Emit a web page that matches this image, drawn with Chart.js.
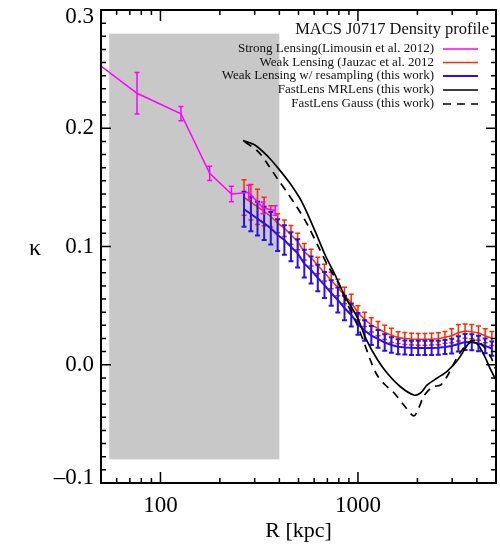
<!DOCTYPE html>
<html>
<head>
<meta charset="utf-8">
<script src="https://cdn.jsdelivr.net/npm/chart.js@4.4.1/dist/chart.umd.min.js"></script>
<style>
body { margin: 0; background: #fff; }
#wrap { width: 500px; height: 545px; }
</style>
</head>
<body>
<div id="wrap"><canvas id="grap"></canvas></div>
<script>
// radii (kpc) and kappa values
var strongR   = [50, 76.1, 127, 177.5, 228.8, 280, 331, 381];
var strongK   = [0.2526, 0.2296, 0.2123, 0.1619, 0.1444, 0.1457, 0.1326, 0.1304];
var strongErr = [0, 0.0175, 0.006, 0.006, 0.0065, 0.006, 0.005, 0.004];

var weakR = [265, 287, 310, 335, 362, 392, 424, 458, 495, 535, 579, 626, 677, 732, 791, 855, 925,
             1000, 1081, 1169, 1264, 1366, 1477, 1597, 1727, 1867, 2019, 2183, 2360, 2552, 2759,
             2983, 3225, 3487, 3770, 4076, 4407, 4765];
var jauzacK = [0.1415, 0.1375, 0.1335, 0.1296, 0.1254, 0.1197, 0.1155, 0.1098, 0.1042, 0.0955,
               0.0906, 0.0839, 0.0779, 0.0712, 0.0653, 0.0585, 0.0526, 0.0440, 0.0383, 0.0337,
               0.0306, 0.0273, 0.0249, 0.0230, 0.0222, 0.0217, 0.0215, 0.0215, 0.0216, 0.0220,
               0.0232, 0.0245, 0.0270, 0.0285, 0.0280, 0.0268, 0.0245, 0.0222];
var jauzacErr = [0.015, 0.015, 0.015, 0.012, 0.009, 0.008, 0.007, 0.008, 0.007, 0.007, 0.007,
                 0.007, 0.007, 0.007, 0.007, 0.007, 0.007, 0.006, 0.006, 0.006, 0.006, 0.006,
                 0.006, 0.005, 0.005, 0.005, 0.005, 0.005, 0.005, 0.005, 0.005, 0.006, 0.007,
                 0.006, 0.006, 0.006, 0.006, 0.006];
var resampK = [0.1315, 0.1275, 0.1235, 0.1196, 0.1154, 0.1097, 0.1055, 0.0998, 0.0942, 0.0855,
               0.0801, 0.0734, 0.0674, 0.0607, 0.0548, 0.0480, 0.0421, 0.0345, 0.0290, 0.0247,
               0.0218, 0.0188, 0.0167, 0.0152, 0.0146, 0.0143, 0.0142, 0.0142, 0.0142, 0.0144,
               0.0150, 0.0158, 0.0176, 0.0192, 0.0190, 0.0180, 0.0160, 0.0137];
var resampErr = [0.0148, 0.0146, 0.0143, 0.014, 0.0137, 0.0134, 0.0125, 0.0122, 0.012, 0.0117,
                 0.0114, 0.0112, 0.011, 0.0108, 0.0106, 0.0104, 0.0098, 0.0092, 0.0086, 0.008,
                 0.0075, 0.007, 0.0066, 0.0063, 0.006, 0.006, 0.006, 0.006, 0.006, 0.006, 0.006,
                 0.0062, 0.0065, 0.0068, 0.0068, 0.0065, 0.0062, 0.006];

var mrlensR = [262, 300.6, 351, 395, 452.8, 519, 606.6, 682, 766.6, 861.7, 988, 1111, 1249, 1404,
               1641, 1917, 2074, 2243, 2521, 2835, 3187, 3583, 3722, 4027, 4351, 4706, 5000];
var mrlensK = [0.1895, 0.1858, 0.1759, 0.1661, 0.1534, 0.1379, 0.1130, 0.0928, 0.0759, 0.0575,
               0.0406, 0.0201, 0.0049, -0.0070, -0.0186, -0.0256, -0.0239, -0.0171, -0.0112,
               -0.0053, 0.0036, 0.0167, 0.0192, 0.0175, 0.0082, -0.0044, -0.0129];
var gaussR = [267.3, 312.5, 351.2, 394.8, 435.5, 489.7, 550.6, 630.5, 708.8, 796.9, 879.4, 969,
              1089, 1155, 1249, 1376, 1517, 1706, 1917, 2032, 2156, 2377, 2620, 2835, 3006, 3311,
              3722, 4027, 4351, 4706, 5000];
var gaussK = [0.1886, 0.1802, 0.1690, 0.1563, 0.1463, 0.1337, 0.1196, 0.0998, 0.0829, 0.0689,
              0.0522, 0.0378, 0.0159, 0.0040, -0.0087, -0.0171, -0.0235, -0.0340, -0.0433,
              -0.0366, -0.0264, -0.0188, -0.0171, -0.0095, -0.0011, 0.0108, 0.0201, 0.0201,
              0.0150, 0.0066, -0.0044];

// shaded strong-lensing region
var bandR = [55, 400];
var bandK = [-0.08, 0.28];

// axis ticks
var xMajor = [100, 1000];
var xLabels = ["100", "1000"];
var xMinor = [60, 70, 80, 90, 200, 300, 400, 500, 600, 700, 800, 900, 2000, 3000, 4000];
var yMajor = [-0.1, 0.0, 0.1, 0.2, 0.3];
var yLabels = ["\u20130.1", "0.0", "0.1", "0.2", "0.3"];

var legendNames = ["Strong Lensing(Limousin et al. 2012)", "Weak Lensing (Jauzac et al. 2012",
                   "Weak Lensing w/ resampling (this work)", "FastLens MRLens (this work)",
                   "FastLens Gauss (this work)"];

function pts(xs, ys) {
    return xs.map(function (x, i) { return { x: x, y: ys[i] }; });
}

var SERIF = "'Liberation Serif', 'DejaVu Serif', serif";

var decor = {
    id: "decor",
    beforeDatasetsDraw: function (chart) {
        var c = chart.ctx, xs = chart.scales.x, ys = chart.scales.y;
        var x0 = xs.getPixelForValue(bandR[0]), x1 = xs.getPixelForValue(bandR[1]);
        var y0 = ys.getPixelForValue(bandK[1]), y1 = ys.getPixelForValue(bandK[0]);
        c.save();
        c.fillStyle = "#c8c8c8";
        c.fillRect(x0, y0, x1 - x0, y1 - y0);
        c.restore();
    },
    afterDatasetDraw: function (chart, args) {
        var ds = chart.data.datasets[args.index];
        if (!ds.errors) return;
        var c = chart.ctx, ys = chart.scales.y, a = chart.chartArea;
        c.save();
        c.beginPath();
        c.rect(a.left, a.top, a.right - a.left, a.bottom - a.top);
        c.clip();
        c.strokeStyle = ds.borderColor;
        c.lineWidth = ds.barWidth;
        args.meta.data.forEach(function (p, i) {
            var e = ds.errors[i];
            if (!e) return;
            var v = ds.data[i].y;
            var t = ys.getPixelForValue(v + e), b = ys.getPixelForValue(v - e);
            c.beginPath();
            c.moveTo(p.x, t); c.lineTo(p.x, b);
            c.moveTo(p.x - 2.5, t); c.lineTo(p.x + 2.5, t);
            c.moveTo(p.x - 2.5, b); c.lineTo(p.x + 2.5, b);
            c.stroke();
        });
        c.restore();
    },
    afterDraw: function (chart) {
        var c = chart.ctx, xs = chart.scales.x, ys = chart.scales.y, a = chart.chartArea;
        c.save();
        c.strokeStyle = "#000";
        c.fillStyle = "#000";
        // ticks, inside on all four sides
        c.lineWidth = 1.5;
        c.beginPath();
        xMajor.concat(xMinor).forEach(function (v) {
            var px = xs.getPixelForValue(v), len = xMajor.indexOf(v) >= 0 ? 11 : 5;
            c.moveTo(px, a.bottom); c.lineTo(px, a.bottom - len);
            c.moveTo(px, a.top); c.lineTo(px, a.top + len);
        });
        for (var k = 0; k < yMajor.length; k++) {
            for (var m = 0; m < 9; m++) {
                if (m > 0 && k == yMajor.length - 1) break;
                var v = yMajor[k] + m * 0.1 / 9;
                var py = ys.getPixelForValue(v), len = m == 0 ? 10 : 5;
                c.moveTo(a.left, py); c.lineTo(a.left + len, py);
                c.moveTo(a.right, py); c.lineTo(a.right - len, py);
            }
        }
        c.stroke();
        c.lineWidth = 2;
        c.strokeRect(a.left, a.top, a.right - a.left, a.bottom - a.top);

        // tick labels
        c.font = "23px " + SERIF;
        c.textAlign = "right";
        c.textBaseline = "middle";
        yMajor.forEach(function (v, i) {
            var py = ys.getPixelForValue(v);
            py = Math.min(Math.max(py, a.top + 7), a.bottom - 5);
            c.fillText(yLabels[i], a.left - 7, py);
        });
        c.textAlign = "center";
        xMajor.forEach(function (v, i) {
            c.fillText(xLabels[i], xs.getPixelForValue(v), a.bottom + 23);
        });
        c.font = "22px " + SERIF;
        c.fillText("R [kpc]", (a.left + a.right) / 2, a.bottom + 48);
        c.font = "24px " + SERIF;
        c.fillText("\u03ba", 35, (a.top + a.bottom) / 2 + 2);

        // title and legend
        c.font = "16.5px " + SERIF;
        c.textAlign = "right";
        c.fillStyle = "#111";
        c.fillText("MACS J0717 Density profile", 489, 30);
        c.font = "13px " + SERIF;
        var rowY = [49, 62.5, 76, 90, 104];
        var legendSets = ["strong", "jauzac", "resamp", "mrlens", "gauss"].map(function (key) {
            return chart.data.datasets.filter(function (d) { return d.key == key; })[0];
        });
        legendSets.forEach(function (d, i) {
            c.fillStyle = "#111";
            c.fillText(legendNames[i], 434, rowY[i]);
            c.strokeStyle = d.borderColor;
            c.lineWidth = d.legendWidth;
            c.setLineDash(d.borderDash || []);
            c.beginPath();
            c.moveTo(443, rowY[i]); c.lineTo(478, rowY[i]);
            c.stroke();
        });
        c.setLineDash([]);
        c.restore();
    }
};

var ctx = document.getElementById("grap").getContext("2d");
var kappaChart = new Chart(ctx, {
    type: "line",
    data: {
        datasets: [
            {
                key: "gauss", label: legendNames[4], data: pts(gaussR, gaussK), order: 1,
                borderColor: "#000", borderWidth: 1.7, borderDash: [8, 6], legendWidth: 1.6,
                pointRadius: 0, tension: 0.3, fill: false
            },
            {
                key: "mrlens", label: legendNames[3], data: pts(mrlensR, mrlensK), order: 2,
                borderColor: "#000", borderWidth: 1.7, legendWidth: 1.6,
                pointRadius: 0, tension: 0.3, fill: false
            },
            {
                key: "strong", label: legendNames[0], data: pts(strongR, strongK), order: 3,
                borderColor: "#f0f", borderWidth: 1.5, legendWidth: 1.5,
                errors: strongErr, barWidth: 1.5, pointRadius: 0, tension: 0, fill: false
            },
            {
                key: "resamp", label: legendNames[2], data: pts(weakR, resampK), order: 4,
                borderColor: "#2a10f0", borderWidth: 2, legendWidth: 2,
                errors: resampErr, barWidth: 2, pointRadius: 0, tension: 0, fill: false
            },
            {
                key: "jauzac", label: legendNames[1], data: pts(weakR, jauzacK), order: 5,
                borderColor: "#ff2a00", borderWidth: 1.5, legendWidth: 1.5,
                errors: jauzacErr, barWidth: 1.5, pointRadius: 0, tension: 0, fill: false
            }
        ]
    },
    options: {
        responsive: true,
        maintainAspectRatio: false,
        animation: false,
        devicePixelRatio: 1,
        layout: { padding: { top: 10, right: 4, left: 0, bottom: 0 } },
        plugins: {
            legend: { display: false },
            tooltip: { enabled: false }
        },
        scales: {
            x: {
                type: "logarithmic", min: 50, max: 5000,
                grid: { display: false }, border: { display: false },
                ticks: { display: false },
                afterFit: function (s) { s.height = 62; }
            },
            y: {
                type: "linear", min: -0.1, max: 0.3,
                grid: { display: false }, border: { display: false },
                ticks: { display: false },
                afterFit: function (s) { s.width = 101; }
            }
        }
    },
    plugins: [decor]
});
</script>
</body>
</html>
